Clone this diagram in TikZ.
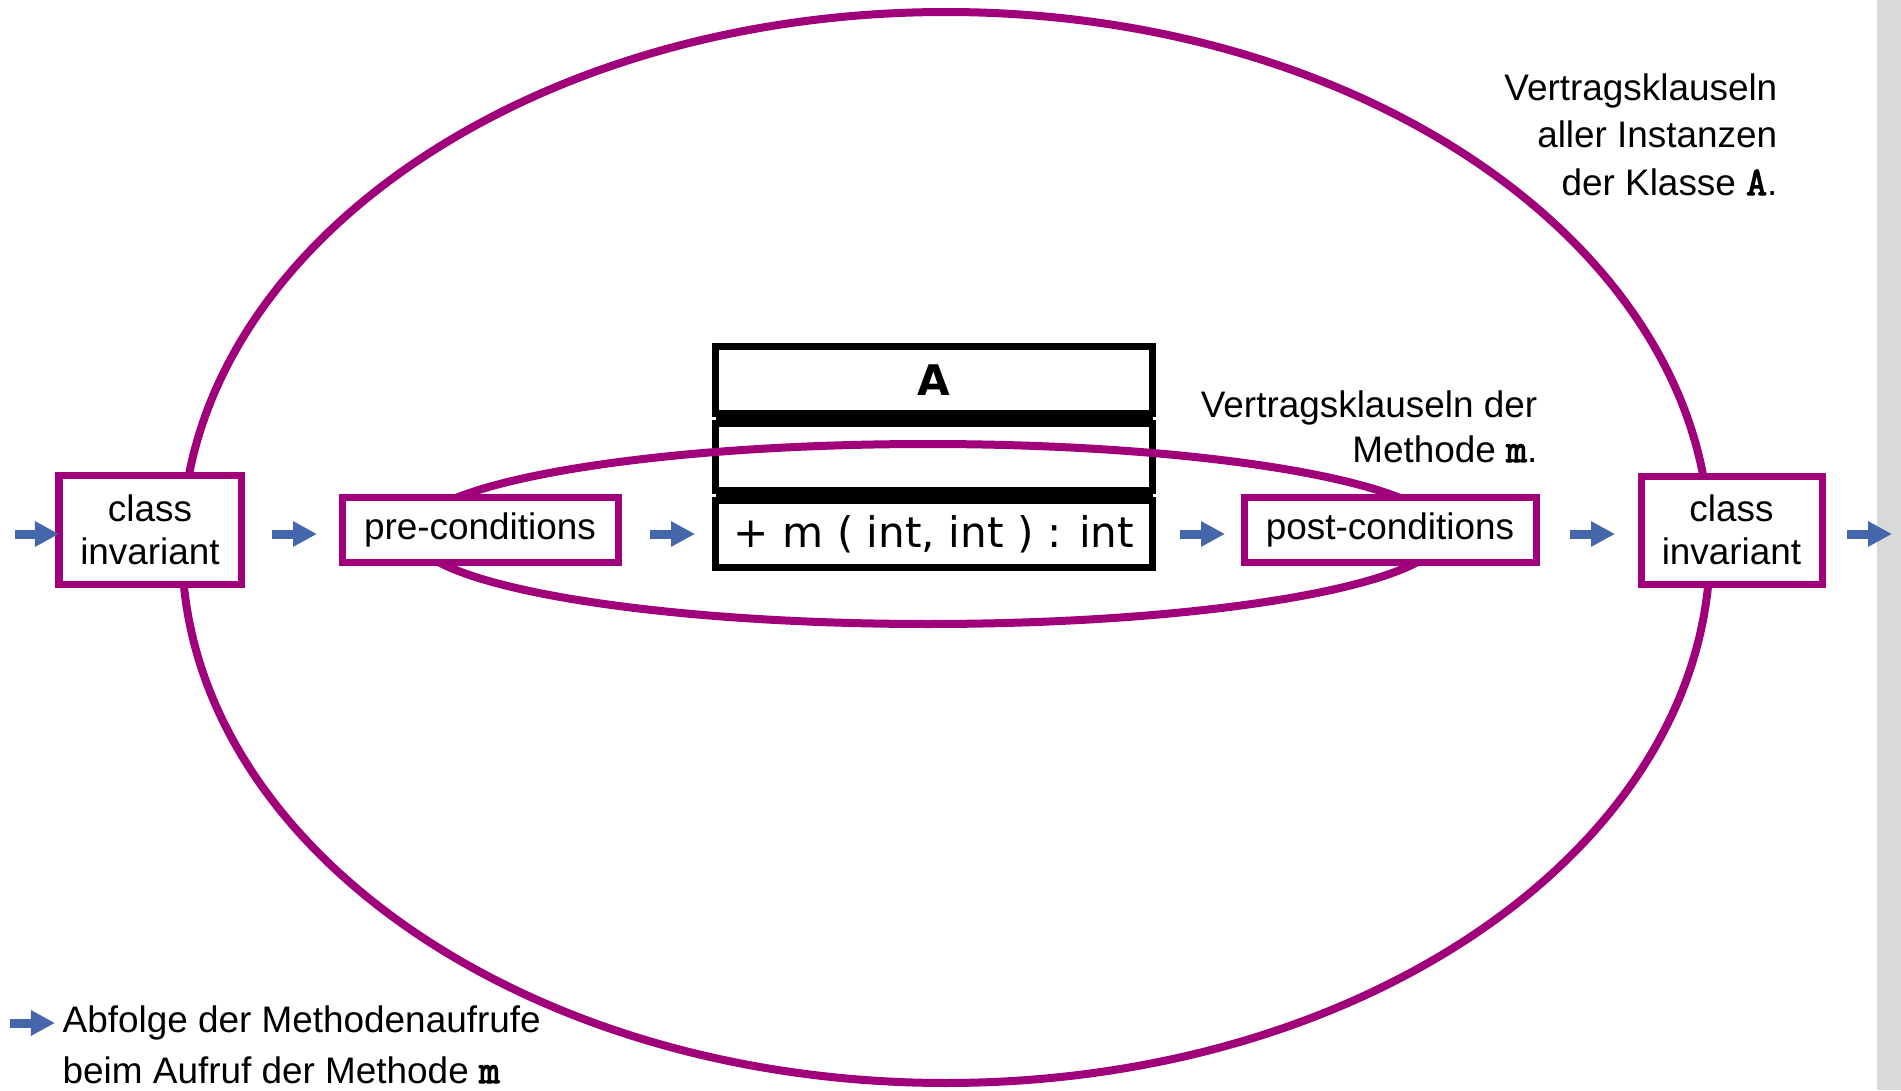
\documentclass[tikz,border=0pt]{standalone}
\usepackage{fontspec}
\setmainfont{Liberation Sans}
\newfontfamily\umlfont{DejaVu Sans}
\newfontfamily\codefont[AutoFakeBold=3]{Latin Modern Mono}
\newcommand{\code}[1]{{\codefont\bfseries\fontsize{11.5pt}{13pt}\selectfont #1}}
\usetikzlibrary{arrows.meta,positioning}

\definecolor{contract}{HTML}{A0007A}
\definecolor{callflow}{HTML}{4467AC}
\definecolor{pageedge}{HTML}{D9D9D9}

\begin{document}
\begin{tikzpicture}[
  clause/.style={draw=contract, line width=0.07cm, fill=white, inner sep=0pt, outer sep=0pt, align=center, font=\fontsize{10.5pt}{12.2pt}\selectfont},
  umlpart/.style={draw, line width=0.07cm, fill=white, minimum width=4.37cm, minimum height=0.67cm, inner sep=0pt, outer sep=0pt, font=\umlfont\fontsize{12pt}{14pt}\selectfont},
  ring/.style={draw=contract, line width=0.08cm},
  flow/.style={draw=callflow, line width=0.09cm, -{Triangle[length=0.24cm,width=0.24cm]}},
  note/.style={inner sep=0pt, align=right}
]
\useasboundingbox (0,0) rectangle (19.01,10.90);
\fill[pageedge] (18.77,0) rectangle (19.01,10.90);

% contract of all instances of A
\draw[ring] (9.46,5.425) ellipse [x radius=7.64, y radius=5.355];

% class A
\node[umlpart] (cname) at (9.34,7.10) {\bfseries A};
\node[umlpart, below=0.10cm of cname] (cattr) {};
\node[umlpart, below=0.10cm of cattr] (cops) {+ m ( int, int ) : int};
\fill (cname.south west) rectangle (cattr.north east);
\fill (cattr.south west) rectangle (cops.north east);

% contract of method m
\draw[ring] (9.28,5.56) ellipse [x radius=5.15, y radius=0.90];

\node[clause, minimum width=1.82cm, minimum height=1.09cm] (inv1) at (1.50,5.60) {class\\invariant};
\node[clause, minimum width=2.76cm, minimum height=0.65cm] (pre) at (4.80,5.60) {pre-conditions};
\node[clause, minimum width=2.92cm, minimum height=0.65cm] (post) at (13.90,5.60) {post-conditions};
\node[clause, minimum width=1.81cm, minimum height=1.08cm] (inv2) at (17.315,5.60) {class\\invariant};

% call sequence
\coordinate (start) at (0.15,5.56);
\coordinate (finish) at (18.92,5.56);
\path[flow] (start) -- (inv1.west |- cops);
\path[flow, shorten <=0.31cm, shorten >=0.25cm] (inv1.east |- cops) -- (pre.west |- cops);
\path[flow, shorten <=0.32cm, shorten >=0.205cm] (pre.east |- cops) -- (cops.west);
\path[flow, shorten <=0.275cm, shorten >=0.19cm] (cops.east) -- (post.west |- cops);
\path[flow, shorten <=0.34cm, shorten >=0.26cm] (post.east |- cops) -- (inv2.west |- cops);
\path[flow, shorten <=0.25cm] (inv2.east |- cops) -- (finish);

% base anchor sits on the last line
\node[note, anchor=base east, font=\fontsize{10.5pt}{13.5pt}\selectfont] (allinst) at (17.78,8.95)
  {Vertragsklauseln\\aller Instanzen\\der Klasse \code{A}.};
\node[note, anchor=base east, font=\fontsize{10.5pt}{12.8pt}\selectfont] (methcl) at (15.38,6.28)
  {Vertragsklauseln der\\Methode \code{m}.};

% legend
\coordinate (lgA) at (0.10,0.67);
\coordinate (lgB) at (0.55,0.67);
\path[flow] (lgA) -- (lgB);
\node[inner sep=0pt, anchor=base west, align=left, font=\fontsize{10.5pt}{14.5pt}\selectfont] (legend) at (0.62,0.07)
  {Abfolge der Methodenaufrufe\\beim Aufruf der Methode \code{m}};
\end{tikzpicture}
\end{document}
